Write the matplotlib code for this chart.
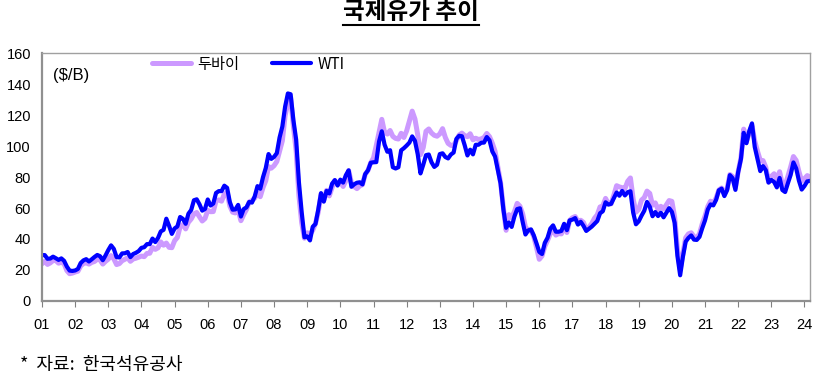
import matplotlib
matplotlib.use('Agg')
import matplotlib.pyplot as plt
import numpy as np
from matplotlib.lines import Line2D

plt.rcParams['font.family'] = ['Noto Sans CJK KR', 'DejaVu Sans']

year_labels = ['01', '02', '03', '04', '05', '06', '07', '08', '09', '10', '11', '12',
               '13', '14', '15', '16', '17', '18', '19', '20', '21', '22', '23', '24']

# monthly averages, Jan 2001 - Mar 2024 ($/bbl)
dubai = [
    24.0, 25.6, 23.6, 24.6, 26.1, 26.1, 24.4, 25.0, 24.0, 19.6, 17.6, 18.0,
    18.7, 19.2, 22.6, 24.2, 24.6, 23.8, 24.9, 25.5, 26.9, 26.5, 23.8, 25.6,
    27.0, 29.3, 27.2, 23.5, 24.1, 26.0, 26.9, 27.9, 25.6, 27.1, 27.6, 28.3,
    29.0, 28.6, 30.7, 30.8, 34.6, 33.3, 34.3, 38.1, 36.0, 37.4, 34.6, 34.4,
    38.9, 41.0, 48.0, 49.3, 46.5, 50.8, 52.9, 56.2, 57.1, 54.4, 51.6, 53.2,
    58.5, 57.6, 57.7, 64.6, 65.2, 64.4, 69.0, 69.9, 61.2, 57.3, 56.8, 58.9,
    51.8, 55.7, 59.0, 63.9, 64.8, 66.4, 69.5, 67.3, 73.2, 77.6, 86.7, 85.7,
    87.3, 90.0, 96.7, 103.4, 119.6, 127.8, 131.2, 112.9, 96.7, 68.0, 50.6, 40.5,
    44.0, 43.1, 45.6, 50.0, 57.4, 68.9, 64.8, 71.4, 67.8, 73.2, 77.8, 75.6,
    76.8, 73.9, 77.6, 84.1, 76.3, 73.8, 72.5, 74.2, 75.1, 81.7, 84.3, 89.2,
    92.3, 100.3, 108.7, 117.2, 108.8, 107.7, 110.0, 106.2, 104.9, 104.5, 108.2, 105.5,
    109.8, 116.2, 122.5, 117.4, 107.3, 94.4, 99.0, 109.5, 111.0, 108.4, 106.9, 106.3,
    107.8, 111.2, 105.5, 101.7, 100.4, 100.3, 103.5, 107.1, 108.3, 106.7, 106.0, 107.9,
    104.0, 105.0, 104.2, 104.6, 105.5, 108.1, 106.0, 101.8, 96.6, 86.6, 76.3, 60.2,
    45.6, 55.7, 54.0, 57.6, 63.0, 61.2, 56.2, 47.6, 45.8, 45.5, 41.6, 34.6,
    26.9, 29.1, 35.2, 39.1, 43.5, 45.9, 42.5, 43.5, 43.3, 48.7, 44.2, 52.0,
    53.7, 54.5, 51.4, 52.1, 50.7, 46.3, 47.6, 50.0, 53.4, 55.6, 60.7, 61.3,
    66.2, 62.7, 62.7, 68.3, 74.4, 73.6, 73.1, 72.5, 77.2, 79.4, 65.6, 57.3,
    59.1, 65.1, 66.7, 70.9, 69.4, 61.8, 63.3, 59.1, 61.1, 59.4, 62.0, 64.8,
    64.3, 54.2, 33.7, 20.4, 30.5, 40.8, 43.3, 44.0, 41.5, 40.7, 43.4, 49.8,
    54.8, 60.9, 64.4, 62.9, 66.4, 71.6, 72.9, 69.5, 72.6, 81.6, 80.3, 73.2,
    83.5, 92.4, 110.9, 102.8, 108.2, 113.3, 103.2, 96.6, 90.7, 90.6, 86.3, 76.8,
    80.4, 82.1, 78.5, 83.4, 75.0, 74.7, 80.4, 86.5, 93.2, 90.7, 83.5, 77.3,
    78.9, 80.9, 80.0,
]
wti = [
    29.6, 29.6, 27.2, 27.4, 28.6, 27.6, 26.5, 27.5, 25.9, 22.2, 19.6, 19.4,
    19.7, 20.7, 24.5, 26.2, 27.0, 25.5, 26.9, 28.4, 29.7, 28.9, 26.3, 29.4,
    32.9, 35.9, 33.6, 28.3, 28.1, 30.7, 30.8, 31.6, 28.3, 30.3, 31.1, 32.2,
    34.3, 34.7, 36.7, 36.7, 40.3, 38.0, 40.7, 44.9, 45.9, 53.1, 48.5, 43.3,
    46.8, 48.1, 54.2, 53.0, 49.8, 56.3, 58.7, 65.0, 65.6, 62.4, 58.3, 59.4,
    65.5, 61.6, 62.9, 69.7, 70.9, 70.9, 74.4, 73.0, 63.8, 58.9, 59.1, 62.0,
    54.5, 59.3, 60.4, 63.9, 63.5, 67.5, 74.1, 72.4, 79.9, 85.8, 94.8, 91.7,
    93.0, 95.4, 105.5, 112.6, 125.4, 133.9, 133.4, 116.7, 104.1, 76.6, 57.3, 41.1,
    41.7, 39.1, 47.9, 49.7, 59.0, 69.6, 64.1, 71.0, 69.4, 75.7, 78.0, 74.5,
    78.3, 76.4, 81.2, 84.3, 73.7, 75.3, 76.3, 76.6, 75.2, 81.9, 84.3, 89.2,
    89.5, 89.6, 102.9, 109.5, 100.9, 96.3, 97.3, 86.3, 85.5, 86.3, 97.2, 98.6,
    100.3, 102.2, 106.2, 103.3, 94.7, 82.3, 87.9, 94.1, 94.5, 89.5, 86.5, 87.9,
    94.8, 95.3, 92.9, 92.0, 94.5, 95.8, 104.6, 106.6, 106.3, 100.5, 93.9, 97.6,
    94.6, 100.8, 100.8, 102.1, 102.2, 105.8, 103.6, 96.5, 93.2, 84.4, 75.8, 59.3,
    47.2, 50.6, 47.8, 54.5, 59.3, 59.8, 50.9, 42.9, 45.5, 46.2, 42.4, 37.2,
    31.7, 30.3, 37.5, 40.8, 46.7, 48.8, 44.7, 44.7, 45.2, 49.8, 45.7, 52.0,
    52.5, 53.5, 49.3, 51.1, 48.5, 45.2, 46.6, 48.0, 49.8, 51.6, 56.6, 57.9,
    63.7, 62.2, 62.7, 66.3, 70.0, 67.9, 71.0, 68.1, 70.2, 70.8, 57.0, 49.5,
    51.4, 55.0, 58.2, 63.9, 60.8, 54.7, 57.4, 54.8, 57.0, 54.0, 57.0, 59.9,
    57.5, 50.5, 29.2, 16.6, 28.6, 38.3, 40.7, 42.3, 39.6, 39.4, 41.4, 47.0,
    52.0, 59.0, 62.3, 61.7, 65.2, 71.4, 72.5, 67.7, 71.5, 81.2, 79.2, 71.7,
    83.2, 91.6, 108.5, 101.8, 109.6, 114.6, 99.4, 91.5, 83.8, 87.0, 84.4, 76.4,
    78.1, 76.8, 73.3, 79.4, 71.6, 70.3, 76.0, 81.4, 89.4, 85.5, 77.6, 71.9,
    74.2, 77.2, 77.5,
]

x = np.arange(len(wti))

fig = plt.figure(figsize=(8.22, 3.77), dpi=100)
ax = fig.add_axes([0.0511, 0.2016, 0.9343, 0.6578])

ax.plot(x, dubai, color='#cc99ff', lw=3.6, label='두바이', solid_capstyle='round')
ax.plot(x, wti, color='#0000ff', lw=3.0, label='WTI', solid_capstyle='round')

ax.set_xlim(0, len(wti) - 1)
ax.set_ylim(0, 160)
ax.set_yticks(np.arange(0, 161, 20))
ax.set_xticks(np.arange(len(year_labels)) * 12)
ax.set_xticklabels(year_labels)
ax.tick_params(axis='y', length=0, pad=8, labelsize=10.5)
ax.tick_params(axis='x', length=4, color='#808080', pad=8, labelsize=10.5)
for lab in ax.get_xticklabels() + ax.get_yticklabels():
    lab.set_family(['Liberation Sans', 'DejaVu Sans'])
for side in ['left', 'bottom']:
    ax.spines[side].set_color('#909090')
    ax.spines[side].set_linewidth(1.6)
for side in ['top', 'right']:
    ax.spines[side].set_color('#a0a0a0')
    ax.spines[side].set_linewidth(1.0)

ax.text(0.014, 0.91, '($/B)', transform=ax.transAxes, fontsize=12,
        family=['Liberation Sans', 'DejaVu Sans'], va='center')
ax.legend(loc='upper left', bbox_to_anchor=(0.125, 1.045), ncol=2, frameon=False,
          fontsize=11, handlelength=2.6, handletextpad=0.4, columnspacing=2.1)

t = fig.text(0.5, 0.968, '국제유가 추이', ha='center', va='center', fontsize=17,
             fontweight='bold')
fig.canvas.draw()
bb = t.get_window_extent().transformed(fig.transFigure.inverted())
fig.add_artist(Line2D([bb.x0, bb.x1], [0.935, 0.935],
                      transform=fig.transFigure, color='black', lw=1.5))

fig.text(0.024, 0.032, '*  자료:  한국석유공사', fontsize=13, va='center')

fig.savefig('out.png', dpi=100)
